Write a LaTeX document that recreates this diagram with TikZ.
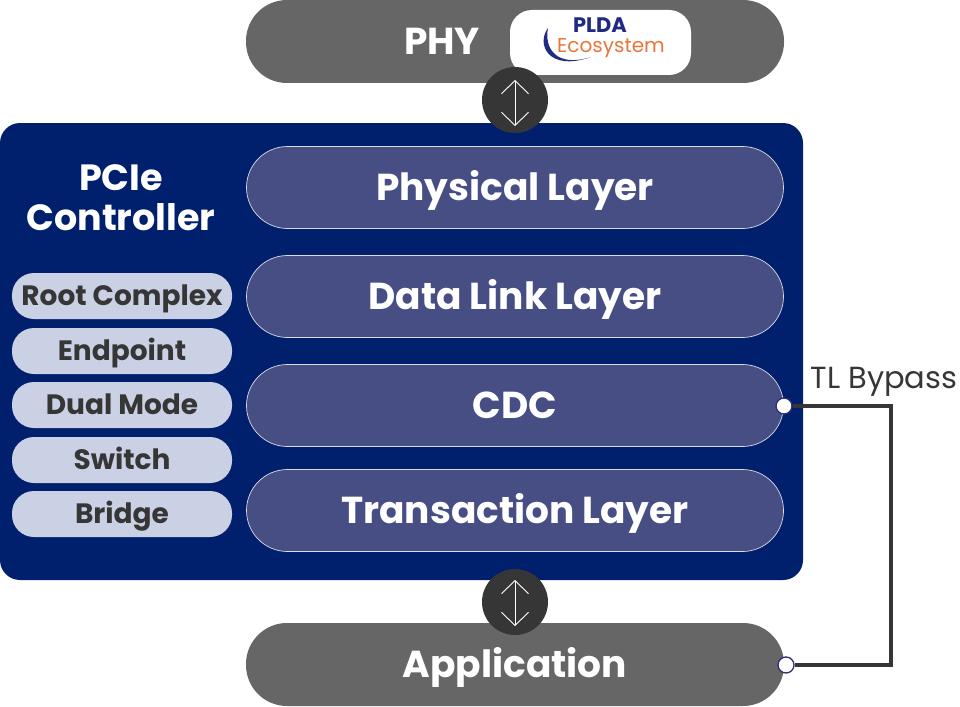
\documentclass[tikz,border=0pt]{standalone}
\usepackage{fontspec}
\setmainfont{Poppins}
\usetikzlibrary{arrows.meta}
\definecolor{navy}{HTML}{00206E}
\definecolor{layerblue}{HTML}{474E84}
\definecolor{pillgrey}{HTML}{666666}
\definecolor{darkgrey}{HTML}{363636}
\definecolor{modefill}{HTML}{CBD1E4}
\definecolor{portline}{HTML}{2E2A78}
\definecolor{logoblue}{HTML}{1F2A80}
\definecolor{logoorange}{HTML}{E8763A}
\tikzset{
  outerpill/.style={rectangle, rounded corners=41pt, fill=pillgrey, text=white, minimum width=538pt, minimum height=83pt, inner sep=0pt, text height=26pt, text depth=0pt, font=\bfseries\fontsize{37.5}{40}\selectfont},
  layerpill/.style={outerpill, fill=layerblue, draw=white!80!layerblue, line width=0.7pt, minimum width=537pt, minimum height=82pt},
  modepill/.style={rectangle, rounded corners=22pt, fill=modefill, text=darkgrey, minimum width=220pt, minimum height=46pt, inner sep=0pt, text height=19.5pt, text depth=0pt, font=\bfseries\fontsize{28}{30}\selectfont},
  linkdot/.style={circle, fill=darkgrey, minimum size=66pt, inner sep=0pt},
  portdot/.style={circle, fill=white, draw=portline, line width=1.3pt, minimum size=16pt, inner sep=0pt},
  linkarrow/.style={white, line width=0.9pt, {Straight Barb[length=13pt,width=27pt]}-{Straight Barb[length=13pt,width=27pt]}},
  plaintext/.style={inner sep=0pt, text height=#1, text depth=0pt},
}
\begin{document}
\begin{tikzpicture}[x=1pt, y=-1pt]
    \useasboundingbox (0,0) rectangle (960,706);
    % controleur
    \node[rectangle, rounded corners=20pt, fill=navy, minimum width=803pt, minimum height=457pt, inner sep=0pt] (controller) at (401.5,351.5) {};
    \node[plaintext=25.5pt, text=white, font=\bfseries\fontsize{36.5}{38}\selectfont] (titletop) at (121,178) {PCIe};
    \node[plaintext=25.5pt, text=white, font=\bfseries\fontsize{36.5}{38}\selectfont] (titlebot) at (121,218) {Controller};
    % couches
    \node[outerpill] (phy) at (515,41.5) {};
    \node[plaintext=26pt, text=white, font=\bfseries\fontsize{37.5}{40}\selectfont] (phytext) at (442,42) {PHY};
    \node[layerpill] (physical) at (515,187.5) {Physical Layer};
    \node[layerpill] (datalink) at (515,296.5) {Data Link Layer};
    \node[layerpill] (cdc) at (515,405.5) {CDC};
    \node[layerpill] (transaction) at (515,510.5) {Transaction Layer};
    \node[outerpill] (application) at (515,664.5) {Application};
    % modes
    \node[modepill] (root) at (122,296) {Root Complex};
    \node[modepill] (endpoint) at (122,351) {Endpoint};
    \node[modepill] (dual) at (122,405) {Dual Mode};
    \node[modepill] (switch) at (122,460) {Switch};
    \node[modepill] (bridge) at (122,514) {Bridge};
    % logo
    \node[rectangle, rounded corners=22pt, fill=white, minimum width=181pt, minimum height=65pt, inner sep=0pt] (logo) at (600.5,42.5) {};
    \node[plaintext=15pt, text=logoblue, font=\bfseries\fontsize{21}{23}\selectfont] (plda) at (600,25) {PLDA};
    \node[plaintext=14pt, text=logoorange, font=\fontsize{20}{22}\selectfont] (ecosystem) at (611,46) {Ecosystem};
    \fill[logoblue] (548,28) .. controls (536,44) and (548,72) .. (591,57) .. controls (556,68) and (544,48) .. (548,28);
    % liens
    \node[linkdot] (phylink) at (515,100) {};
    \node[linkdot] (applink) at (515,602) {};
    \coordinate (phylinktop) at (515,80);
    \coordinate (phylinkbot) at (515,126);
    \coordinate (applinktop) at (515,580);
    \coordinate (applinkbot) at (515,626);
    \draw[linkarrow] (phylinktop) -- (phylinkbot);
    \draw[linkarrow] (applinktop) -- (applinkbot);
    % bypass
    \coordinate (bypasscorner) at (891,406);
    \node[portdot] (cdcport) at (784,406) {};
    \node[portdot] (appport) at (786,665) {};
    \draw[darkgrey, line width=3.5pt, line join=miter] (cdcport) -- (bypasscorner) |- (appport);
    \node[plaintext=21pt, text=darkgrey, font=\fontsize{30.5}{32}\selectfont] (bypass) at (884,378) {TL Bypass};
  \end{tikzpicture}
\end{document}
